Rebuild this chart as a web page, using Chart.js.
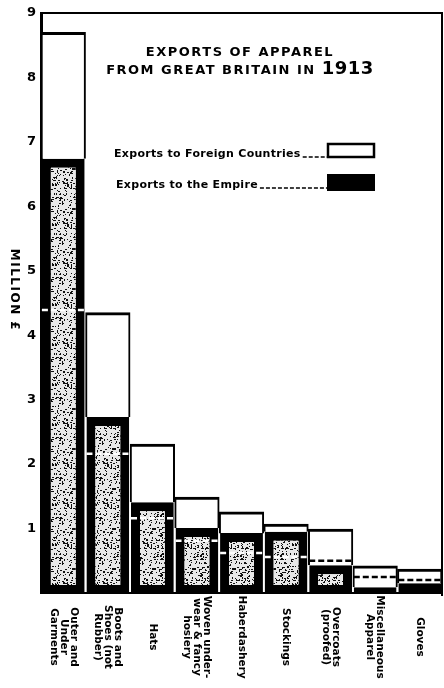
<!DOCTYPE html>
<html>
<head>
<meta charset="utf-8">
<title>Exports of Apparel from Great Britain in 1913</title>
<script src="https://cdn.jsdelivr.net/npm/chart.js@4.4.1/dist/chart.umd.min.js"></script>
<style>
  html, body { margin: 0; padding: 0; background: #fff; }
  canvas { display: block; }
</style>
</head>
<body>
<canvas id="apparelChart" width="444" height="688"></canvas>
<script>
// categories, one entry per bar (each inner item is one printed line)
const categories = [
  ['Outer and', 'Under', 'Garments'],
  ['Boots and', 'Shoes (not', 'Rubber)'],
  ['Hats'],
  ['Woven under-', 'wear & fancy', 'hosiery'],
  ['Haberdashery'],
  ['Stockings'],
  ['Overcoats', '(proofed)'],
  ['Miscellaneous', 'Apparel'],
  ['Gloves']
];

// million pounds
const empireExports = [6.74, 2.73, 1.41, 1.01, 0.93, 0.95, 0.43, 0.09, 0.15];
const foreignExports = [1.96, 1.62, 0.90, 0.48, 0.33, 0.12, 0.56, 0.33, 0.22];
// dashed level marked across each bar
const dashedMarks = [4.39, 2.16, 1.16, 0.81, 0.62, 0.56, 0.50, 0.25, 0.20];

const yTicks = [0, 1, 2, 3, 4, 5, 6, 7, 8, 9];
const titleLines = ['EXPORTS OF APPAREL', 'FROM GREAT BRITAIN IN ', '1913'];
const yTitle = 'MILLION £';

const BOLD = '"DejaVu Sans", "Liberation Sans", sans-serif';

// speckled halftone fill used inside the black bars
function stipple() {
  const c = document.createElement('canvas');
  c.width = c.height = 40;
  const g = c.getContext('2d');
  g.fillStyle = '#e8e8e8';
  g.fillRect(0, 0, 40, 40);
  g.fillStyle = '#111';
  let s = 12345;
  const next = () => (s = (s * 16807) % 2147483647);
  for (let i = 0; i < 240; i++) {
    const x = next() % 40;
    const y = next() % 40;
    g.fillRect(x, y, i % 3 === 0 ? 2 : 1, i % 5 === 0 ? 2 : 1);
  }
  return g.createPattern(c, 'repeat');
}

const decorations = {
  id: 'decorations',
  afterDatasetsDraw(chart) {
    const { ctx, scales: { y } } = chart;
    const meta = chart.getDatasetMeta(0);

    // dashed level across each bar: white over black, black over white
    ctx.save();
    ctx.lineWidth = 2.5;
    ctx.setLineDash([6, 3]);
    dashedMarks.forEach((v, i) => {
      const bar = meta.data[i];
      const py = y.getPixelForValue(v);
      ctx.strokeStyle = v < empireExports[i] ? '#fff' : '#000';
      ctx.beginPath();
      ctx.moveTo(bar.x - bar.width / 2, py);
      ctx.lineTo(bar.x + bar.width / 2, py);
      ctx.stroke();
    });
    ctx.restore();
  },
  afterDraw(chart) {
    const { ctx, chartArea: a, scales: { x } } = chart;
    ctx.save();
    ctx.fillStyle = '#000';
    ctx.strokeStyle = '#000';

    // top and right frame
    ctx.lineWidth = 2;
    ctx.beginPath();
    ctx.moveTo(a.left - 1, a.top);
    ctx.lineTo(a.right, a.top);
    ctx.lineTo(a.right, a.bottom + 3);
    ctx.stroke();

    // title
    ctx.textBaseline = 'alphabetic';
    ctx.textAlign = 'left';
    ctx.letterSpacing = '1.5px';
    ctx.font = 'bold 13px ' + BOLD;
    const cx = 240;
    const w1 = ctx.measureText(titleLines[0]).width;
    ctx.fillText(titleLines[0], cx - w1 / 2, 56);
    const w2a = ctx.measureText(titleLines[1]).width;
    ctx.font = 'bold 18px ' + BOLD;
    ctx.letterSpacing = '0.5px';
    const w2b = ctx.measureText(titleLines[2]).width;
    const start = cx - (w2a + w2b) / 2;
    ctx.fillText(titleLines[2], start + w2a, 74);
    ctx.font = 'bold 13px ' + BOLD;
    ctx.letterSpacing = '1.5px';
    ctx.fillText(titleLines[1], start, 74);

    // legend
    ctx.letterSpacing = '0.3px';
    ctx.font = 'bold 11px ' + BOLD;
    const legendRows = [
      { text: chart.data.datasets[1].label, tx: 114, by: 157, box: [327, 143, 48, 15], filled: false },
      { text: chart.data.datasets[0].label, tx: 116, by: 188, box: [327, 174, 48, 17], filled: true }
    ];
    legendRows.forEach(r => {
      ctx.fillText(r.text, r.tx, r.by);
      const tw = ctx.measureText(r.text).width;
      ctx.lineWidth = 1.5;
      ctx.setLineDash([4, 2]);
      ctx.beginPath();
      ctx.moveTo(r.tx + tw + 2, r.by);
      ctx.lineTo(r.box[0], r.by);
      ctx.stroke();
      ctx.setLineDash([]);
      const [bx, by, bw, bh] = r.box;
      if (r.filled) {
        ctx.fillRect(bx, by, bw, bh);
      } else {
        ctx.lineWidth = 2.5;
        ctx.strokeRect(bx + 1, by + 1, bw - 2, bh - 2);
      }
    });

    // y axis title, reading downwards
    ctx.save();
    ctx.translate(14, 290);
    ctx.rotate(Math.PI / 2);
    ctx.textAlign = 'center';
    ctx.textBaseline = 'middle';
    ctx.letterSpacing = '1.5px';
    ctx.font = 'bold 12px ' + BOLD;
    ctx.fillText(yTitle, 0, 0);
    ctx.restore();

    // category labels, rotated clockwise, first line on the right
    ctx.letterSpacing = '0px';
    ctx.font = 'bold 10.5px ' + BOLD;
    ctx.textAlign = 'center';
    ctx.textBaseline = 'middle';
    const lh = 10;
    categories.forEach((lines, i) => {
      const px = x.getPixelForValue(i);
      lines.forEach((line, j) => {
        const colX = px + ((lines.length - 1) / 2 - j) * lh;
        ctx.save();
        ctx.translate(colX, 637);
        ctx.rotate(Math.PI / 2);
        ctx.fillText(line, 0, 0);
        ctx.restore();
      });
    });
    ctx.restore();
  }
};

new Chart(document.getElementById('apparelChart'), {
  type: 'bar',
  data: {
    labels: categories.map(l => l.join(' ')),
    datasets: [
      {
        label: 'Exports to the Empire',
        data: empireExports,
        backgroundColor: stipple(),
        borderColor: '#000',
        borderWidth: { top: 9, left: 9, right: 9, bottom: 8 },
        borderSkipped: false,
        barPercentage: 0.96,
        categoryPercentage: 1
      },
      {
        label: 'Exports to Foreign Countries',
        data: foreignExports,
        backgroundColor: '#fff',
        borderColor: '#000',
        borderWidth: { top: 3, left: 2, right: 2, bottom: 0 },
        barPercentage: 1,
        categoryPercentage: 1
      }
    ]
  },
  options: {
    responsive: false,
    animation: false,
    layout: { padding: { top: 13, right: 2, left: 0, bottom: 0 } },
    plugins: {
      legend: { display: false },
      tooltip: { enabled: false }
    },
    scales: {
      x: {
        stacked: true,
        grid: { display: false },
        ticks: { display: false },
        border: { color: '#000', width: 2 },
        afterFit: s => { s.height = 95; }
      },
      y: {
        stacked: true,
        min: yTicks[0],
        max: yTicks[yTicks.length - 1],
        afterBuildTicks: s => { s.ticks = yTicks.map(v => ({ value: v })); },
        grid: { display: false, drawTicks: false },
        border: { color: '#000', width: 3 },
        ticks: {
          padding: 5,
          color: '#000',
          font: { family: BOLD, weight: 'bold', size: 13 },
          callback: v => (v === 0 ? '' : v)
        },
        afterFit: s => { s.width = 41; }
      }
    }
  },
  plugins: [decorations]
});
</script>
</body>
</html>
